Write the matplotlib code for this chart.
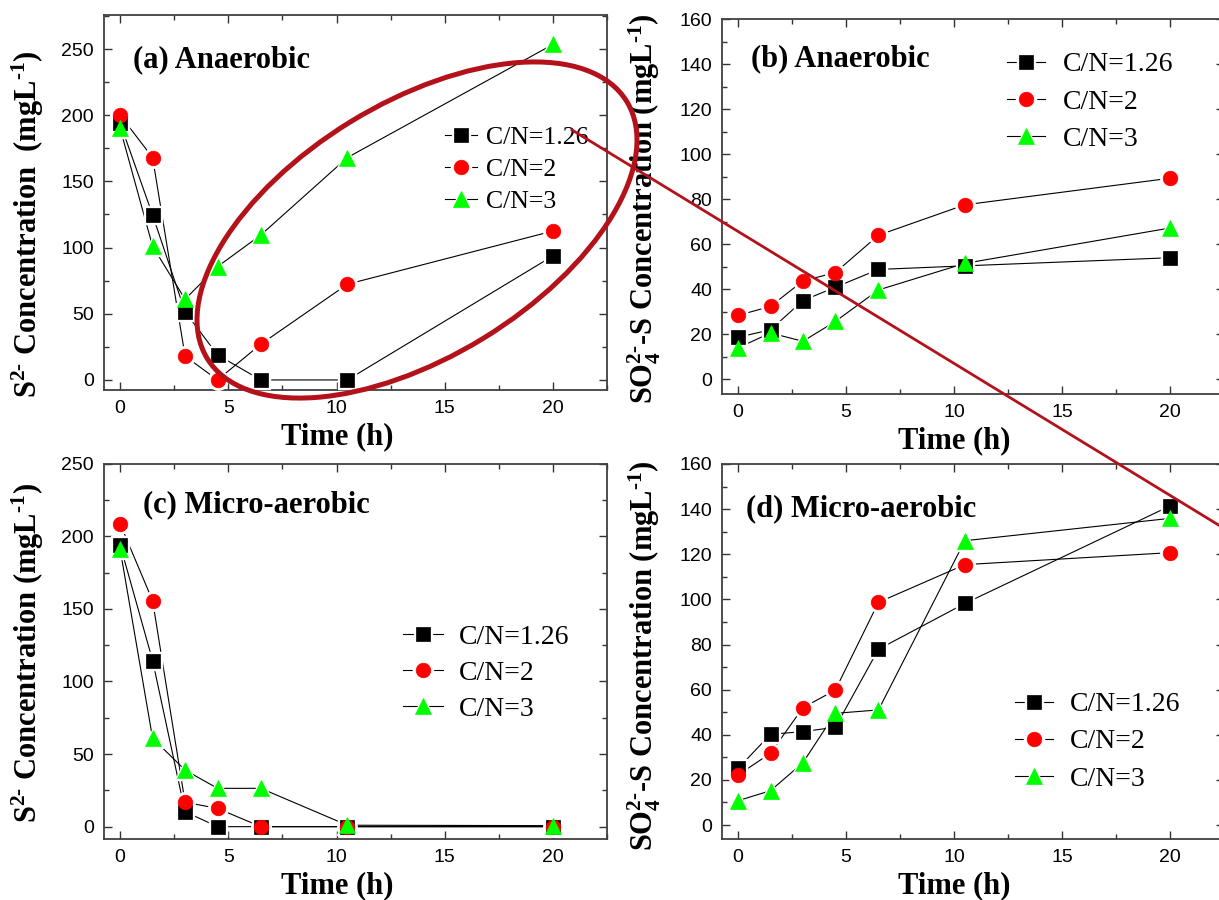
import matplotlib
matplotlib.use('Agg')
import matplotlib.pyplot as plt
from matplotlib.lines import Line2D
from matplotlib.patches import Ellipse
from matplotlib.ticker import MultipleLocator

plt.rcParams['font.family'] = 'Liberation Serif'
plt.rcParams['mathtext.fontset'] = 'custom'
plt.rcParams['mathtext.rm'] = 'Liberation Serif:bold'
plt.rcParams['mathtext.default'] = 'rm'

# sampling times (h)
time_h = [0, 1.5, 3, 4.5, 6.5, 10.5, 20]
labels = ['C/N=1.26', 'C/N=2', 'C/N=3']

# (a) S2- , anaerobic
s_anaer_126 = [194, 124.6, 51.6, 18.9, 0, 0, 93.7]
s_anaer_2 = [200, 168, 18, 0, 27, 72.3, 112.5]
s_anaer_3 = [190, 101, 61, 85.6, 109.5, 168, 253.5]
# (b) SO4 2- -S , anaerobic
so4_anaer_126 = [18.7, 22, 35, 40.9, 48.8, 50.4, 54]
so4_anaer_2 = [28.4, 32.4, 43.7, 47.4, 64, 77.5, 89.3]
so4_anaer_3 = [14, 20.6, 16.9, 25.7, 39.7, 51.5, 67.2]
# (c) S2- , micro-aerobic
s_micro_126 = [194, 114.4, 10.3, 0, 0, 0, 0]
s_micro_2 = [208.6, 155.6, 16.8, 12.6, 0, 0, 0]
s_micro_3 = [191, 60.9, 39, 26.4, 26.4, 1, 0.7]
# (d) SO4 2- -S , micro-aerobic
so4_micro_126 = [25.1, 40.2, 41.4, 43.3, 77.9, 98.2, 141.4]
so4_micro_2 = [22.2, 31.8, 52, 59.8, 98.7, 115.4, 120.7]
so4_micro_3 = [10.8, 15.2, 27.6, 49.5, 51, 126, 135.9]

markers = ['s', 'o', '^']
colors = ['black', '#ff0000', '#00ff00']
msizes = [9.5, 10.5, 11]

W, H = 1219, 900
fig = plt.figure(figsize=(W / 100, H / 100), dpi=100)

s_label = r'S$^{2\text{-}}$ Concentration  (mgL$^{\text{-}1}$)'
so4_label = r'SO$_{4}^{2\text{-}}$-S Concentration (mgL$^{\text{-}1}$)'


def px_axes(left, top, right, bottom):
    return fig.add_axes([left / W, 1 - bottom / H, (right - left) / W, (bottom - top) / H])


def panel(box, series, ylim, ymajor, title, title_xy, ylabel, ylabel_xy,
          leg_xy, leg_size, leg_len, leg_pad, leg_space):
    ax = px_axes(*box)
    for y in series:
        ax.plot(time_h, y, color='black', lw=0.8, zorder=2)
    # white halo so the lines stop short of the symbols
    for k, y in enumerate(series):
        ax.plot(time_h, y, ls='none', marker=markers[k], ms=msizes[k] + 3.5,
                mfc='white', mec='white', zorder=3)
    for k, y in enumerate(series):
        ax.plot(time_h, y, ls='none', marker=markers[k], ms=msizes[k],
                mfc=colors[k], mec=colors[k], mew=0.5, zorder=4 + k)

    ax.set_xlim(-0.76, 22.5)
    ax.set_ylim(*ylim)
    ax.xaxis.set_major_locator(MultipleLocator(5))
    ax.xaxis.set_minor_locator(MultipleLocator(2.5))
    ax.yaxis.set_major_locator(MultipleLocator(ymajor))
    ax.yaxis.set_minor_locator(MultipleLocator(ymajor / 2))
    ax.tick_params(which='both', direction='in', top=True, right=True,
                   labelsize=14, labelfontfamily='Liberation Sans', width=1,
                   color='#333333')
    ax.tick_params(which='major', length=6, pad=7)
    ax.tick_params(which='minor', length=3.5)
    for sp in ax.spines.values():
        sp.set_linewidth(1.3)
        sp.set_color('#404040')

    ax.set_xlabel('Time (h)', fontsize=22, fontweight='bold')
    ax.xaxis.set_label_coords(0.4635, -0.085)
    ax.set_ylabel(ylabel, fontsize=22, fontweight='bold')
    ax.yaxis.set_label_coords(*ylabel_xy)
    ax.text(title_xy[0], title_xy[1], title, transform=ax.transAxes,
            fontsize=22, fontweight='bold', ha='left', va='center')

    handles = []
    for k in range(3):
        halo = Line2D([], [], color='black', lw=0.8, marker=markers[k],
                      ms=msizes[k] + 4, mfc='white', mec='white')
        sym = Line2D([], [], ls='none', marker=markers[k], ms=msizes[k],
                     mfc=colors[k], mec=colors[k], mew=0.5)
        handles.append((halo, sym))
    ax.legend(handles, labels, loc='center left',
              bbox_to_anchor=(leg_xy[0] / W, 1 - leg_xy[1] / H),
              bbox_transform=fig.transFigure, frameon=False, fontsize=leg_size,
              handlelength=leg_len, handletextpad=leg_pad, labelspacing=leg_space,
              borderpad=0, borderaxespad=0, numpoints=1)
    return ax


panel((103.7, 15.3, 607, 390), [s_anaer_126, s_anaer_2, s_anaer_3],
      (-7.6, 275.5), 50, '(a) Anaerobic', (0.058, 0.881),
      s_label, (-0.115, 0.442), (444.8, 169.5), 18.5, 1.25, 0.34, 0.35)
panel((721.7, 19, 1224, 394), [so4_anaer_126, so4_anaer_2, so4_anaer_3],
      (-6.5, 160), 20, '(b) Anaerobic', (0.0575, 0.893),
      so4_label, (-0.116, 0.493), (1007, 102), 20, 1.37, 0.63, 0.43)
panel((103.7, 463.7, 607, 839), [s_micro_126, s_micro_2, s_micro_3],
      (-8.5, 250), 50, '(c) Micro-aerobic', (0.079, 0.89),
      s_label.replace('  ', ' '), (-0.115, 0.496), (402.5, 673), 20, 1.44, 0.58, 0.38)
panel((721.7, 464, 1224, 839), [so4_micro_126, so4_micro_2, so4_micro_3],
      (-6.2, 160), 20, '(d) Micro-aerobic', (0.048, 0.88),
      so4_label, (-0.116, 0.49), (1014.7, 741.7), 20, 1.39, 0.6, 0.42)

# red annotation drawn over the figure in pixel units
ov = fig.add_axes([0, 0, 1, 1], zorder=10)
ov.set_xlim(0, W)
ov.set_ylim(H, 0)
ov.axis('off')
ov.patch.set_alpha(0)
ov.add_patch(Ellipse((417, 230), 492, 254, angle=-31.5, fill=False,
                     ec='#b3121b', lw=3.6))
ov.plot([572, 1230], [130, 532], color='#b3121b', lw=2)

fig.savefig('out.png', dpi=100)
